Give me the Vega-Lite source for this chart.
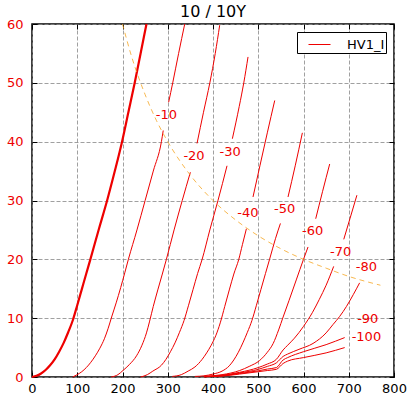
{
"$schema": "https://vega.github.io/schema/vega-lite/v6.json",
"width": 362, "height": 353,
"autosize": {"type": "none"},
"padding": {"left": 32, "top": 24, "right": 16, "bottom": 20},
"title": {"text": "10 / 10Y", "fontSize": 16, "fontWeight": 400, "font": "DejaVu Sans", "color": "black", "baseline": "alphabetic", "offset": -15},
"config": {"font": "DejaVu Sans", "view": {"stroke": "black", "strokeWidth": 1.5}, "title": {"font": "DejaVu Sans", "fontWeight": 400, "fontSize": 16}},
"datasets": {
"c0": [
{"v":0,"i":0},{"v":10,"i":0.2},{"v":20,"i":0.6},{"v":30,"i":1.2},{"v":40,"i":2.0},{"v":50,"i":3.0},{"v":60,"i":4.3},{"v":70,"i":5.8},{"v":80,"i":7.6},{"v":90,"i":9.6},{"v":100,"i":12.2},{"v":110,"i":14.9},{"v":120,"i":17.6},{"v":129,"i":20},{"v":148,"i":25.2},{"v":166,"i":30},{"v":183,"i":35},{"v":199,"i":40},{"v":213,"i":45},{"v":227,"i":50},{"v":240,"i":55},{"v":253,"i":60}
],
"curves": [
{"k":"-10a","v":90,"i":0},{"k":"-10a","v":100,"i":0.4},{"k":"-10a","v":110,"i":0.9},{"k":"-10a","v":120,"i":1.6},{"k":"-10a","v":130,"i":2.5},{"k":"-10a","v":140,"i":3.6},{"k":"-10a","v":150,"i":4.9},{"k":"-10a","v":160,"i":6.5},{"k":"-10a","v":168,"i":8.2},{"k":"-10a","v":176,"i":10.2},{"k":"-10a","v":186,"i":12.6},{"k":"-10a","v":196,"i":15.2},{"k":"-10a","v":205,"i":17.7},{"k":"-10a","v":213,"i":20},{"k":"-10a","v":232,"i":25},{"k":"-10a","v":250,"i":30},{"k":"-10a","v":268,"i":35},{"k":"-10a","v":286,"i":40},{"k":"-10a","v":290,"i":41.9},
{"k":"-10b","v":302,"i":46.7},{"k":"-10b","v":311,"i":50},{"k":"-10b","v":324,"i":55},{"k":"-10b","v":337.5,"i":60},
{"k":"-20a","v":175,"i":0},{"k":"-20a","v":190,"i":0.4},{"k":"-20a","v":201,"i":1.1},{"k":"-20a","v":215,"i":2.1},{"k":"-20a","v":231,"i":3.6},{"k":"-20a","v":243,"i":5.4},{"k":"-20a","v":253,"i":7.5},{"k":"-20a","v":260,"i":9.5},{"k":"-20a","v":268,"i":12},{"k":"-20a","v":278,"i":14.8},{"k":"-20a","v":288,"i":17.5},{"k":"-20a","v":297,"i":20},{"k":"-20a","v":314,"i":25},{"k":"-20a","v":332,"i":30},{"k":"-20a","v":350,"i":34.8},
{"k":"-20b","v":364.7,"i":39.7},{"k":"-20b","v":379,"i":45},{"k":"-20b","v":393,"i":50},{"k":"-20b","v":405,"i":55},{"k":"-20b","v":414.8,"i":59.8},
{"k":"-30a","v":240,"i":0},{"k":"-30a","v":255,"i":0.4},{"k":"-30a","v":267,"i":1.0},{"k":"-30a","v":286,"i":2},{"k":"-30a","v":296,"i":3},{"k":"-30a","v":306,"i":4.3},{"k":"-30a","v":316,"i":5.8},{"k":"-30a","v":326,"i":7.6},{"k":"-30a","v":336,"i":9.6},{"k":"-30a","v":346,"i":12.2},{"k":"-30a","v":356,"i":14.9},{"k":"-30a","v":366,"i":17.6},{"k":"-30a","v":376,"i":20},{"k":"-30a","v":393,"i":25},{"k":"-30a","v":411,"i":30},{"k":"-30a","v":431,"i":35.9},
{"k":"-30b","v":442.8,"i":40.5},{"k":"-30b","v":458,"i":46},{"k":"-30b","v":468,"i":50},{"k":"-30b","v":477.4,"i":54.4},
{"k":"-40a","v":310,"i":0.1},{"k":"-40a","v":330,"i":0.4},{"k":"-40a","v":345,"i":1.0},{"k":"-40a","v":360,"i":1.7},{"k":"-40a","v":376,"i":3},{"k":"-40a","v":386,"i":4.1},{"k":"-40a","v":396,"i":5.4},{"k":"-40a","v":406,"i":7},{"k":"-40a","v":416,"i":9.2},{"k":"-40a","v":426,"i":12},{"k":"-40a","v":436,"i":14.8},{"k":"-40a","v":446,"i":17.5},{"k":"-40a","v":457,"i":20},{"k":"-40a","v":465,"i":22.5},{"k":"-40a","v":473.8,"i":25.2},
{"k":"-40b","v":488.4,"i":30.6},{"k":"-40b","v":504,"i":36},{"k":"-40b","v":520,"i":41.5},{"k":"-40b","v":536.4,"i":47},
{"k":"-50a","v":360,"i":0.1},{"k":"-50a","v":380,"i":0.2},{"k":"-50a","v":400,"i":0.5},{"k":"-50a","v":420,"i":1.0},{"k":"-50a","v":436,"i":1.9},{"k":"-50a","v":446,"i":2.9},{"k":"-50a","v":456,"i":4.2},{"k":"-50a","v":466,"i":5.8},{"k":"-50a","v":476,"i":7.6},{"k":"-50a","v":486,"i":9.6},{"k":"-50a","v":496,"i":12.2},{"k":"-50a","v":506,"i":14.9},{"k":"-50a","v":516,"i":17.6},{"k":"-50a","v":525,"i":20},{"k":"-50a","v":538,"i":23.5},{"k":"-50a","v":549,"i":26.1},
{"k":"-50b","v":565.8,"i":30.6},{"k":"-50b","v":582,"i":36},{"k":"-50b","v":597.5,"i":41.5},
{"k":"-60a","v":380,"i":0.1},{"k":"-60a","v":420,"i":0.4},{"k":"-60a","v":459,"i":1.1},{"k":"-60a","v":480,"i":1.8},{"k":"-60a","v":503,"i":2.8},{"k":"-60a","v":520,"i":4.2},{"k":"-60a","v":533,"i":5.7},{"k":"-60a","v":545,"i":8},{"k":"-60a","v":555,"i":10.2},{"k":"-60a","v":568,"i":13},{"k":"-60a","v":584,"i":16.5},{"k":"-60a","v":600,"i":20},{"k":"-60a","v":610,"i":22.1},
{"k":"-60b","v":627,"i":26.9},{"k":"-60b","v":642,"i":31.5},{"k":"-60b","v":657.9,"i":36.2},
{"k":"-70a","v":380,"i":0.1},{"k":"-70a","v":420,"i":0.3},{"k":"-70a","v":459,"i":0.8},{"k":"-70a","v":500,"i":1.6},{"k":"-70a","v":520,"i":2.2},{"k":"-70a","v":540,"i":3.0},{"k":"-70a","v":555,"i":4.6},{"k":"-70a","v":565,"i":5.4},{"k":"-70a","v":580,"i":6.6},{"k":"-70a","v":600,"i":8.6},{"k":"-70a","v":620,"i":11},{"k":"-70a","v":635,"i":13.2},{"k":"-70a","v":650,"i":15.6},{"k":"-70a","v":666.7,"i":18.8},
{"k":"-70b","v":689,"i":23.4},{"k":"-70b","v":703,"i":27},{"k":"-70b","v":718,"i":30.9},
{"k":"-80","v":380,"i":0.05},{"k":"-80","v":420,"i":0.25},{"k":"-80","v":459,"i":0.7},{"k":"-80","v":500,"i":1.3},{"k":"-80","v":520,"i":1.8},{"k":"-80","v":540,"i":2.4},{"k":"-80","v":555,"i":3.5},{"k":"-80","v":565,"i":3.9},{"k":"-80","v":590,"i":4.7},{"k":"-80","v":621,"i":5.7},{"k":"-80","v":650,"i":7.5},{"k":"-80","v":665,"i":8.9},{"k":"-80","v":680,"i":10.3},{"k":"-80","v":695,"i":12},{"k":"-80","v":710,"i":14},{"k":"-80","v":724,"i":16},
{"k":"-90","v":380,"i":0.05},{"k":"-90","v":420,"i":0.2},{"k":"-90","v":459,"i":0.6},{"k":"-90","v":500,"i":1.05},{"k":"-90","v":520,"i":1.35},{"k":"-90","v":540,"i":1.6},{"k":"-90","v":555,"i":2.9},{"k":"-90","v":565,"i":3.3},{"k":"-90","v":600,"i":4.3},{"k":"-90","v":650,"i":5.5},{"k":"-90","v":691,"i":6.7},
{"k":"-100","v":380,"i":0.05},{"k":"-100","v":420,"i":0.15},{"k":"-100","v":459,"i":0.5},{"k":"-100","v":500,"i":0.9},{"k":"-100","v":520,"i":1.1},{"k":"-100","v":540,"i":1.3},{"k":"-100","v":555,"i":2.3},{"k":"-100","v":565,"i":2.7},{"k":"-100","v":600,"i":3.3},{"k":"-100","v":650,"i":4.1},{"k":"-100","v":691,"i":5.0}
],
"pd": [
{"v":200,"i":60},{"v":220,"i":54.5},{"v":250,"i":48},{"v":275,"i":43.6},{"v":300,"i":40},{"v":350,"i":34.3},{"v":400,"i":30},{"v":450,"i":26.7},{"v":500,"i":24},{"v":550,"i":21.8},{"v":600,"i":20},{"v":650,"i":18.5},{"v":700,"i":17.1},{"v":770,"i":15.6}
],
"labels": [
{"t":"-10","v":297,"i":44.6},{"t":"-20","v":358,"i":37.5},{"t":"-30","v":438,"i":38.2},{"t":"-40","v":477,"i":27.8},{"t":"-50","v":558.5,"i":28.6},{"t":"-60","v":620,"i":24.8},{"t":"-70","v":682,"i":21.2},{"t":"-80","v":739,"i":18.7},{"t":"-90","v":742,"i":9.9},{"t":"-100","v":739,"i":6.8}
]
},
"resolve": {"axis": {"x": "independent", "y": "independent"}},
"layer": [
{
"data": {"name": "curves"},
"mark": {"type": "line", "strokeWidth": 1, "interpolate": "monotone"},
"encoding": {
"x": {"field": "v", "type": "quantitative", "scale": {"domain": [0, 800], "nice": false, "zero": false},
 "axis": {"orient": "bottom", "title": null, "values": [0,100,200,300,400,500,600,700,800], "grid": true, "gridColor": "#888888", "gridDash": [4, 2], "gridWidth": 0.8, "domain": false, "ticks": true, "tickSize": -5, "tickColor": "black", "labelPadding": 10, "labelFontSize": 13, "labelColor": "black", "labelFlush": false, "labelFont": "DejaVu Sans"}},
"y": {"field": "i", "type": "quantitative", "scale": {"domain": [0, 60], "nice": false, "zero": false},
 "axis": {"orient": "left", "title": null, "values": [0,10,20,30,40,50,60], "grid": true, "gridColor": "#888888", "gridDash": [4, 2], "gridWidth": 0.8, "domain": false, "ticks": true, "tickSize": -5, "tickColor": "black", "labelPadding": 14, "labelFontSize": 13, "labelColor": "#ee0000", "labelFlush": false, "labelFont": "DejaVu Sans"}},
"detail": {"field": "k"},
"color": {"datum": "HV1_I", "scale": {"range": ["#ee0000"]},
 "legend": {"title": null, "orient": "none", "legendX": 265, "legendY": 8, "symbolType": "stroke", "symbolSize": 484, "symbolStrokeWidth": 1, "strokeColor": "black", "fillColor": "white", "padding": 1, "symbolOffset": 10, "labelOffset": 16, "labelFontSize": 13, "labelColor": "black", "cornerRadius": 0, "labelFont": "DejaVu Sans"}}
}
},
{
"data": {"name": "c0"},
"mark": {"type": "line", "strokeWidth": 2.2, "color": "#ee0000", "interpolate": "monotone"},
"encoding": {
"x": {"field": "v", "type": "quantitative", "scale": {"domain": [0, 800], "nice": false, "zero": false}, "axis": null},
"y": {"field": "i", "type": "quantitative", "scale": {"domain": [0, 60], "nice": false, "zero": false}, "axis": null}
}
},
{
"data": {"name": "pd"},
"mark": {"type": "line", "strokeWidth": 0.8, "color": "#f5a623", "strokeDash": [5, 4], "interpolate": "monotone"},
"encoding": {
"x": {"field": "v", "type": "quantitative", "scale": {"domain": [0, 800], "nice": false, "zero": false},
 "axis": {"orient": "top", "title": null, "values": [0,100,200,300,400,500,600,700,800], "labels": false, "grid": false, "domain": false, "ticks": true, "tickSize": -5, "tickColor": "black", "minExtent": 0, "maxExtent": 0}},
"y": {"field": "i", "type": "quantitative", "scale": {"domain": [0, 60], "nice": false, "zero": false},
 "axis": {"orient": "right", "title": null, "values": [0,10,20,30,40,50,60], "labels": false, "grid": false, "domain": false, "ticks": true, "tickSize": -5, "tickColor": "black", "minExtent": 0, "maxExtent": 0}}
}
},
{
"data": {"name": "labels"},
"mark": {"type": "text", "fontSize": 13, "color": "#ee0000", "align": "center", "baseline": "middle", "font": "DejaVu Sans"},
"encoding": {
"x": {"field": "v", "type": "quantitative", "scale": {"domain": [0, 800], "nice": false, "zero": false}, "axis": null},
"y": {"field": "i", "type": "quantitative", "scale": {"domain": [0, 60], "nice": false, "zero": false}, "axis": null},
"text": {"field": "t"}
}
}
]
}
